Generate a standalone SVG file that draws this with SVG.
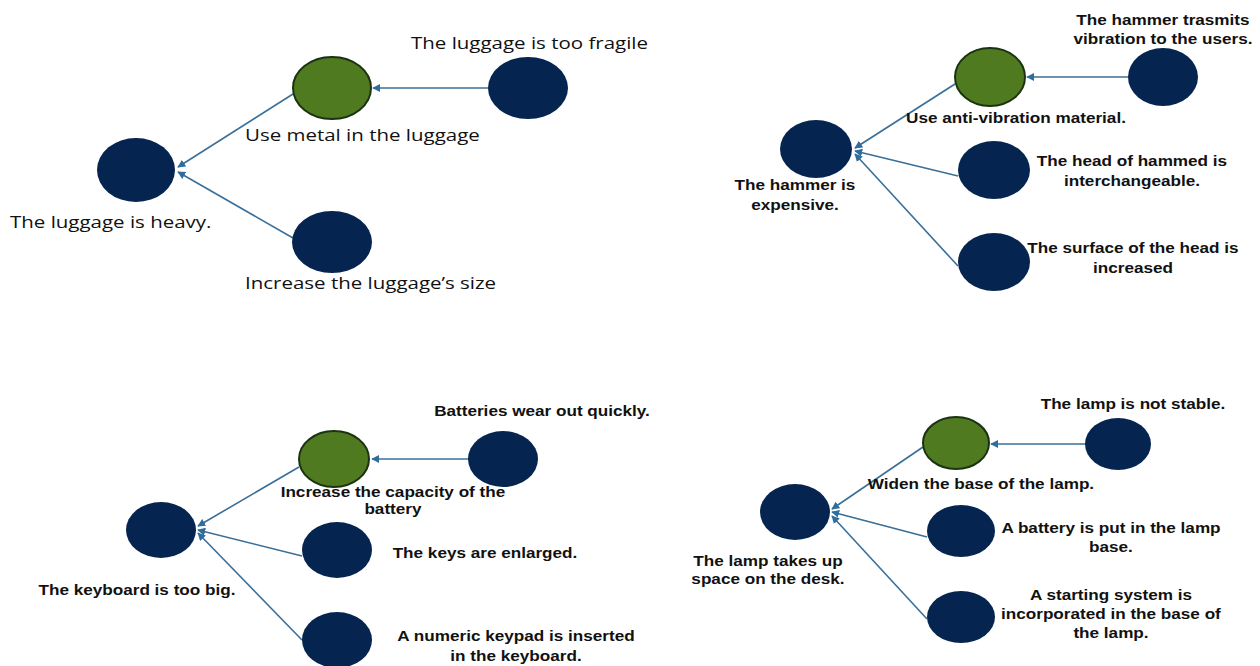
<svg xmlns="http://www.w3.org/2000/svg" width="1260" height="666" viewBox="0 0 1260 666">
<defs>
<marker id="ah" viewBox="0 0 10 10" refX="9" refY="5" markerWidth="8" markerHeight="8" orient="auto" markerUnits="userSpaceOnUse">
<path d="M0,0 L10,5 L0,10 z" fill="#2F6E9C"/>
</marker>
<style>
.n{fill:#05244F}
.g{fill:#4F7A1F;stroke:#1B3313;stroke-width:2}
.c{stroke:#3A6F98;stroke-width:1.6;fill:none;marker-end:url(#ah)}
.t1{font-family:"Open Sans","DejaVu Sans",sans-serif;font-size:16.8px;fill:#111;transform-box:fill-box;transform-origin:left center;transform:scaleX(1.22)}
.t{font-family:"Liberation Sans",Arial,sans-serif;font-weight:bold;font-size:14.05px;fill:#111;text-anchor:middle;transform-box:fill-box;transform-origin:center;transform:scaleX(1.22)}
</style>
</defs>
<rect width="1260" height="666" fill="#fff"/>
<g id="connectors">
<line class="c" x1="293" y1="94" x2="178" y2="167"/>
<line class="c" x1="488" y1="88" x2="373" y2="88"/>
<line class="c" x1="293" y1="238" x2="178" y2="172"/>
<line class="c" x1="955" y1="84" x2="855" y2="148"/>
<line class="c" x1="1128" y1="77" x2="1027" y2="77"/>
<line class="c" x1="958" y1="176" x2="855" y2="151"/>
<line class="c" x1="958" y1="266" x2="855" y2="154"/>
<line class="c" x1="299" y1="467" x2="198" y2="526"/>
<line class="c" x1="469" y1="459" x2="372" y2="459"/>
<line class="c" x1="302" y1="556" x2="198" y2="530"/>
<line class="c" x1="302" y1="640" x2="198" y2="533"/>
<line class="c" x1="923" y1="447" x2="832" y2="509"/>
<line class="c" x1="1086" y1="444" x2="991" y2="444"/>
<line class="c" x1="927" y1="537" x2="832" y2="512"/>
<line class="c" x1="927" y1="619" x2="832" y2="516"/>
</g>
<g id="p1-root"><ellipse class="n" cx="136" cy="170" rx="39" ry="32"/><text class="t1" x="10" y="228">The luggage is heavy.</text></g>
<g id="p1-solution"><ellipse class="g" cx="332" cy="88" rx="39" ry="31"/><text class="t1" x="245" y="141">Use metal in the luggage</text></g>
<g id="p1-cause"><ellipse class="n" cx="528" cy="88" rx="40" ry="31"/><text class="t1" x="411" y="49">The luggage is too fragile</text></g>
<g id="p1-alt"><ellipse class="n" cx="332" cy="242" rx="40" ry="31"/><text class="t1" x="245" y="289">Increase the luggage’s size</text></g>

<g id="p2-root"><ellipse class="n" cx="816" cy="149" rx="36" ry="29"/><text class="t" x="795" y="190">The hammer is</text><text class="t" x="795" y="210">expensive.</text></g>
<g id="p2-solution"><ellipse class="g" cx="990" cy="77" rx="35" ry="29"/><text class="t" x="1016" y="123">Use anti-vibration material.</text></g>
<g id="p2-cause"><ellipse class="n" cx="1163" cy="77" rx="35" ry="29"/><text class="t" x="1163" y="25">The hammer trasmits</text><text class="t" x="1163" y="44">vibration to the users.</text></g>
<g id="p2-alt1"><ellipse class="n" cx="994" cy="170" rx="36" ry="29"/><text class="t" x="1132" y="166">The head of hammed is</text><text class="t" x="1132" y="186">interchangeable.</text></g>
<g id="p2-alt2"><ellipse class="n" cx="994" cy="262" rx="36" ry="29"/><text class="t" x="1133" y="253">The surface of the head is</text><text class="t" x="1133" y="273">increased</text></g>

<g id="p3-root"><ellipse class="n" cx="161" cy="530" rx="35" ry="28"/><text class="t" x="137" y="595">The keyboard is too big.</text></g>
<g id="p3-solution"><ellipse class="g" cx="334" cy="459" rx="35" ry="28"/><text class="t" x="393" y="497">Increase the capacity of the</text><text class="t" x="393" y="514">battery</text></g>
<g id="p3-cause"><ellipse class="n" cx="503" cy="459" rx="35" ry="28"/><text class="t" x="542" y="416">Batteries wear out quickly.</text></g>
<g id="p3-alt1"><ellipse class="n" cx="337" cy="550" rx="35" ry="28"/><text class="t" x="485" y="558">The keys are enlarged.</text></g>
<g id="p3-alt2"><ellipse class="n" cx="337" cy="640" rx="35" ry="28"/><text class="t" x="516" y="641">A numeric keypad is inserted</text><text class="t" x="516" y="661">in the keyboard.</text></g>

<g id="p4-root"><ellipse class="n" cx="795" cy="512" rx="35" ry="28"/><text class="t" x="768" y="566">The lamp takes up</text><text class="t" x="768" y="584">space on the desk.</text></g>
<g id="p4-solution"><ellipse class="g" cx="956" cy="443" rx="33" ry="26"/><text class="t" x="981" y="489">Widen the base of the lamp.</text></g>
<g id="p4-cause"><ellipse class="n" cx="1118" cy="444" rx="33" ry="26"/><text class="t" x="1133" y="409">The lamp is not stable.</text></g>
<g id="p4-alt1"><ellipse class="n" cx="961" cy="531" rx="34" ry="26"/><text class="t" x="1111" y="533">A battery is put in the lamp</text><text class="t" x="1111" y="552">base.</text></g>
<g id="p4-alt2"><ellipse class="n" cx="961" cy="617" rx="34" ry="26"/><text class="t" x="1111" y="600">A starting system is</text><text class="t" x="1111" y="619">incorporated in the base of</text><text class="t" x="1111" y="638">the lamp.</text></g>
</svg>
